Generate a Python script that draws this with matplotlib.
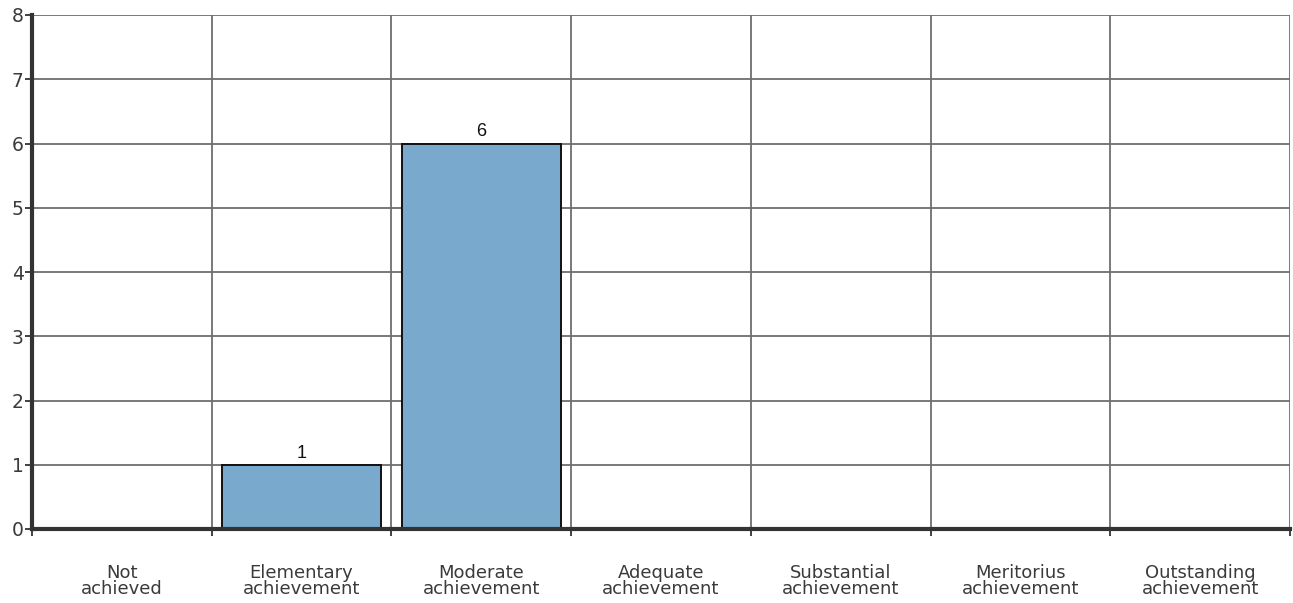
import matplotlib.pyplot as plt
import numpy as np

plt.rcParams["font.family"] = ["DejaVu Sans"]

categories = ["Not\nachieved", "Elementary\nachievement", "Moderate\nachievement",
              "Adequate\nachievement", "Substantial\nachievement",
              "Meritorius\nachievement", "Outstanding\nachievement"]
counts = [0, 1, 6, 0, 0, 0, 0]

fig = plt.figure(figsize=(12.93, 6.03), dpi=100)
ax = fig.add_axes([32 / 1293, 1 - 529 / 603, 1258 / 1293, 514 / 603])

x = np.arange(len(categories))
bars = ax.bar(x, counts, width=0.885, color="#79aacd", edgecolor="#111111",
              linewidth=1.4, zorder=3)
for b, v in zip(bars, counts):
    if v > 0:
        ax.text(b.get_x() + b.get_width() / 2, v + 0.05, str(v), ha="center",
                va="bottom", fontsize=13, family="Liberation Sans", color="#111111")

ax.set_xlim(-0.5, len(categories) - 0.5)
ax.set_ylim(0, 8)
ax.set_yticks(range(0, 9))
ax.set_xticks(x)
ax.set_xticklabels(categories, fontsize=13, color="#3a3a3a", linespacing=0.88)
ax.set_xticks(np.arange(-0.5, len(categories)), minor=True)

# grid: horizontal at each integer, vertical at category boundaries
ax.grid(axis="y", color="#6e6e6e", linewidth=1.3, zorder=1)
ax.grid(axis="x", which="minor", color="#6e6e6e", linewidth=1.3, zorder=1)
ax.tick_params(axis="x", which="major", length=0, pad=25)
ax.tick_params(axis="x", which="minor", length=5, width=1.3, color="#333333", direction="out")
ax.tick_params(axis="y", length=5, width=1.3, color="#333333", labelsize=13.5,
               labelcolor="#3a3a3a", pad=1)

for side in ("top", "right"):
    ax.spines[side].set_visible(False)
for side in ("left", "bottom"):
    ax.spines[side].set_linewidth(3)
    ax.spines[side].set_color("#333333")
    ax.spines[side].set_zorder(4)

fig.savefig("out.png", dpi=100)
